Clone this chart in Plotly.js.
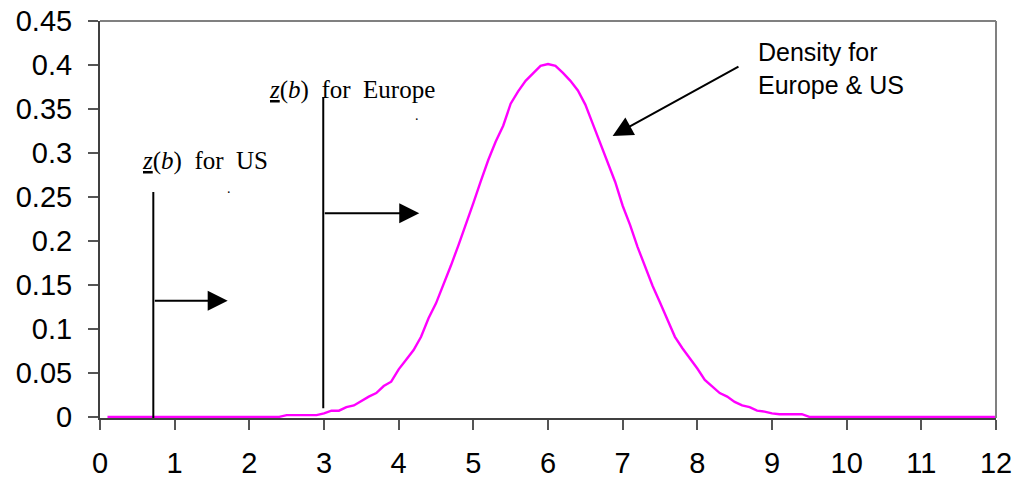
<!DOCTYPE html>
<html>
<head>
<meta charset="utf-8">
<script src="https://cdn.plot.ly/plotly-3.0.1.min.js"></script>
<style>
  html, body { margin: 0; padding: 0; background: #ffffff; }
  #chart { width: 1019px; height: 483px; }
</style>
</head>
<body>
<div id="chart"></div>
<script>
// Density of z shared by Europe and the US
const xValues = [
  0.1, 2.4,
  2.5, 2.6, 2.7, 2.8, 2.9, 3.0, 3.1, 3.2, 3.3, 3.4,
  3.5, 3.6, 3.7, 3.8, 3.9, 4.0, 4.1, 4.2, 4.3, 4.4,
  4.5, 4.6, 4.7, 4.8, 4.9, 5.0, 5.1, 5.2, 5.3, 5.4,
  5.5, 5.6, 5.7, 5.8, 5.9, 6.0, 6.1, 6.2, 6.3, 6.4,
  6.5, 6.6, 6.7, 6.8, 6.9, 7.0, 7.1, 7.2, 7.3, 7.4,
  7.5, 7.6, 7.7, 7.8, 7.9, 8.0, 8.1, 8.2, 8.3, 8.4,
  8.5, 8.6, 8.7, 8.8, 8.9, 9.0, 9.1, 9.2, 9.3, 9.4,
  9.5, 12
];
const density = [
  0, 0,
  0.002, 0.002, 0.002, 0.002, 0.002, 0.004, 0.007, 0.007, 0.011, 0.013,
  0.018, 0.023, 0.027, 0.035, 0.040, 0.054, 0.065, 0.076, 0.091, 0.112,
  0.129, 0.150, 0.172, 0.195, 0.218, 0.243, 0.268, 0.292, 0.313, 0.331,
  0.356, 0.370, 0.382, 0.390, 0.399, 0.401, 0.399, 0.391, 0.382, 0.371,
  0.355, 0.333, 0.311, 0.290, 0.267, 0.240, 0.218, 0.193, 0.171, 0.149,
  0.130, 0.111, 0.091, 0.078, 0.067, 0.055, 0.042, 0.035, 0.027, 0.023,
  0.017, 0.013, 0.011, 0.007, 0.006, 0.004, 0.003, 0.003, 0.003, 0.003,
  0, 0
];

// Cut-off values z(b)
const zbUS = 0.714;
const zbEurope = 2.99;

const xTickVals = [0, 1, 2, 3, 4, 5, 6, 7, 8, 9, 10, 11, 12];
const yTickVals = [0, 0.05, 0.1, 0.15, 0.2, 0.25, 0.3, 0.35, 0.4, 0.45];
const yTickText = ['0', '0.05', '0.1', '0.15', '0.2', '0.25', '0.3', '0.35', '0.4', '0.45'];

const sans = 'Liberation Sans, Arial, sans-serif';
const serif = 'Liberation Serif, Times New Roman, serif';

const trace = {
  x: xValues,
  y: density,
  type: 'scatter',
  mode: 'lines',
  line: { color: '#ff00ff', width: 2.4 },
  hoverinfo: 'skip'
};

const zbLabel = (place) =>
  '<u><i>z</i></u>(<i>b</i>)\u00A0\u00A0for\u00A0\u00A0' + place;

const arrowStyle = {
  text: '',
  showarrow: true,
  arrowhead: 2,
  arrowsize: 2,
  arrowwidth: 2,
  arrowcolor: '#000000',
  standoff: 0,
  xref: 'x', yref: 'y', axref: 'x', ayref: 'y'
};

const layout = {
  width: 1019,
  height: 483,
  margin: { l: 100, r: 23, t: 21, b: 65, pad: 0 },
  paper_bgcolor: '#ffffff',
  plot_bgcolor: '#ffffff',
  showlegend: false,
  xaxis: {
    range: [0, 12],
    tickvals: xTickVals,
    ticks: 'outside',
    ticklen: 10,
    tickwidth: 2,
    tickcolor: '#555555',
    showline: true,
    linecolor: '#404040',
    linewidth: 2,
    showgrid: false,
    zeroline: false,
    layer: 'below traces',
    ticklabelstandoff: 8,
    tickfont: { family: sans, size: 29, color: '#000000' },
    fixedrange: true
  },
  yaxis: {
    range: [-0.0013, 0.45],
    tickvals: yTickVals,
    ticktext: yTickText,
    ticks: 'outside',
    ticklen: 10,
    tickwidth: 2,
    tickcolor: '#555555',
    showline: true,
    linecolor: '#404040',
    linewidth: 2,
    showgrid: false,
    zeroline: false,
    layer: 'below traces',
    ticklabelstandoff: 10,
    tickfont: { family: sans, size: 29, color: '#000000' },
    fixedrange: true
  },
  shapes: [
    // plot-area frame, top and right
    { type: 'line', xref: 'paper', yref: 'paper', x0: 0, x1: 1, y0: 1, y1: 1,
      line: { color: '#808080', width: 2 } },
    { type: 'line', xref: 'paper', yref: 'paper', x0: 1, x1: 1, y0: 0, y1: 1,
      line: { color: '#808080', width: 2 } },
    // cut-off markers
    { type: 'line', xref: 'x', yref: 'y', x0: zbUS, x1: zbUS, y0: -0.0026, y1: 0.2556,
      line: { color: '#000000', width: 2 } },
    { type: 'line', xref: 'x', yref: 'y', x0: zbEurope, x1: zbEurope, y0: 0.0099, y1: 0.3637,
      line: { color: '#000000', width: 2 } }
  ],
  annotations: [
    Object.assign({}, arrowStyle, { x: 1.71, y: 0.132, ax: zbUS, ay: 0.132 }),
    Object.assign({}, arrowStyle, { x: 4.276, y: 0.2314, ax: zbEurope, ay: 0.2314 }),
    Object.assign({}, arrowStyle, { x: 6.866, y: 0.3193, ax: 8.571, ay: 0.399 }),
    {
      text: zbLabel('US'), showarrow: false,
      xref: 'x', yref: 'y', x: 0.536, y: 0.2905,
      xanchor: 'left', yanchor: 'middle',
      font: { family: serif, size: 25, color: '#000000' }
    },
    {
      text: zbLabel('Europe'), showarrow: false,
      xref: 'x', yref: 'y', x: 2.233, y: 0.3712,
      xanchor: 'left', yanchor: 'middle',
      font: { family: serif, size: 25, color: '#000000' }
    },
    {
      text: 'Density for<br>Europe &amp; US', showarrow: false,
      xref: 'x', yref: 'y', x: 8.79, y: 0.3955,
      xanchor: 'left', yanchor: 'middle', align: 'left',
      font: { family: sans, size: 25, color: '#000000' }
    },
    {
      text: '.', showarrow: false,
      xref: 'x', yref: 'y', x: 1.728, y: 0.2591,
      xanchor: 'center', yanchor: 'middle',
      font: { family: serif, size: 14, color: '#000000' }
    },
    {
      text: '.', showarrow: false,
      xref: 'x', yref: 'y', x: 4.245, y: 0.3421,
      xanchor: 'center', yanchor: 'middle',
      font: { family: serif, size: 14, color: '#000000' }
    }
  ]
};

Plotly.newPlot('chart', [trace], layout, { displayModeBar: false, staticPlot: true });
</script>
</body>
</html>
